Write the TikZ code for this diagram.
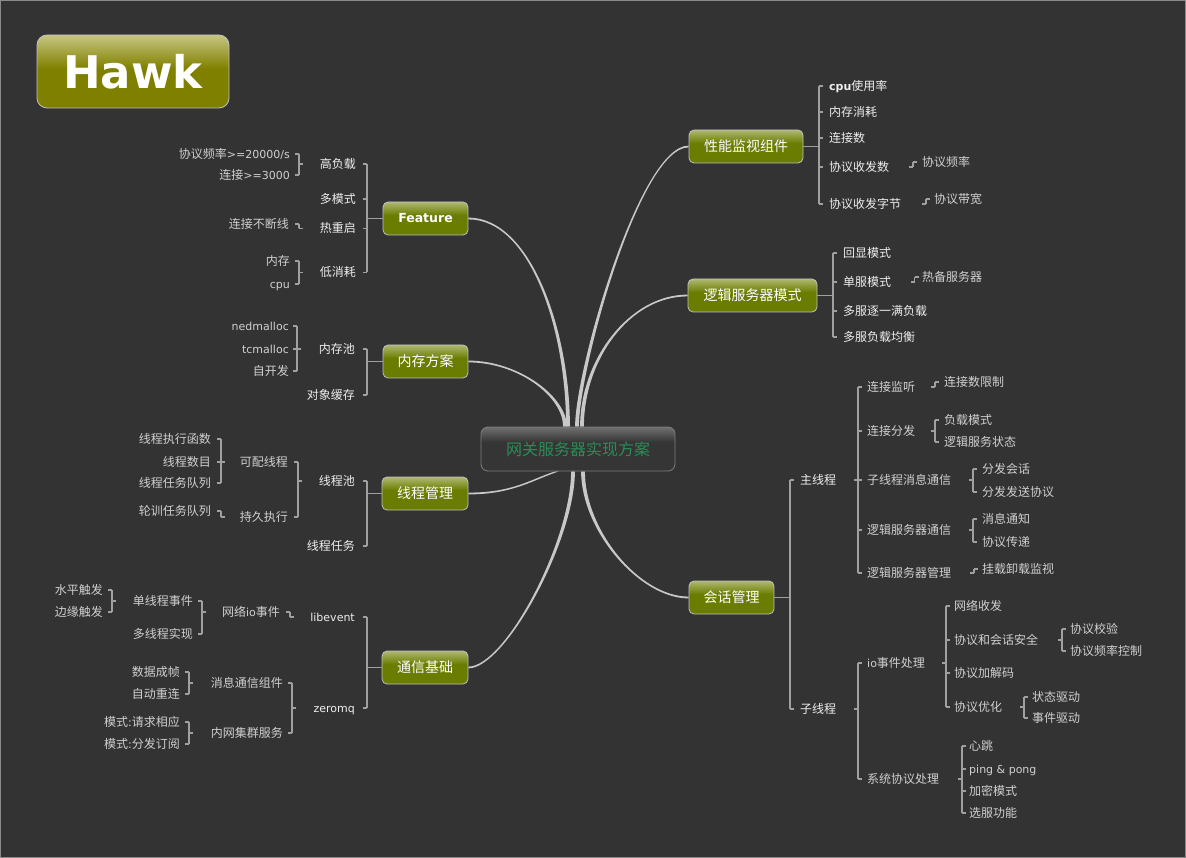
\documentclass[tikz,border=0pt]{standalone}
\usepackage{fontspec}
\setmainfont{DejaVu Sans}
\newfontfamily\cjk{Noto Sans CJK SC}
\newfontfamily\lat{DejaVu Sans}
\usetikzlibrary{calc}
\definecolor{bgc}{HTML}{333333}
\definecolor{framec}{HTML}{8A8A8A}
\definecolor{connc}{HTML}{A0A0A0}
\definecolor{brc}{HTML}{C8C8C8}
\definecolor{t1c}{HTML}{EEEEEE}
\definecolor{t2c}{HTML}{D0D0D0}
\definecolor{gdk}{HTML}{6B7D00}
\definecolor{glt}{HTML}{B0B870}
\definecolor{gborder}{HTML}{C0C0C0}
\definecolor{hdk}{HTML}{808000}
\definecolor{hlt}{HTML}{C6C682}
\definecolor{rdk}{HTML}{353535}
\definecolor{rlt}{HTML}{707070}
\definecolor{rootgreen}{HTML}{2E8B57}
\pgfdeclareverticalshading{greenbox}{100bp}{color(0bp)=(gdk); color(25bp)=(gdk); color(55bp)=(gdk); color(75bp)=(glt); color(100bp)=(glt)}
\pgfdeclareverticalshading{hawkbox}{100bp}{color(0bp)=(hdk); color(25bp)=(hdk); color(52bp)=(hdk); color(75bp)=(hlt); color(100bp)=(hlt)}
\pgfdeclareverticalshading{rootbox}{100bp}{color(0bp)=(rdk); color(25bp)=(rdk); color(58bp)=(rdk); color(75bp)=(rlt); color(100bp)=(rlt)}
\pgfdeclarelayer{bg}
\pgfsetlayers{bg,main}
\newcommand\zh{\cjk\fontsize{12}{14}\selectfont}
\newcommand\en{\lat\fontsize{11}{13}\selectfont}
\def\wb{0.9}
\def\wc{1.9}
% tapered main branch: #1 box anchor, #2 ctrl offset at box, #3 ctrl offset at centre, #4 centre point, #5 side
\newcommand\branch[5]{%
\fill[brc] ($(#1)+(0,\wb)$) .. controls ($(#1)+(0,\wb)+(#2)$) and ($(#4)+({(#5)*\wc},0)+(#3)$) .. ($(#4)+({(#5)*\wc},0)$) -- ($(#4)+({-(#5)*\wc},0)$) .. controls ($(#4)+({-(#5)*\wc},0)+(#3)$) and ($(#1)+(0,-\wb)+(#2)$) .. ($(#1)+(0,-\wb)$) -- cycle;}
% brackets: #1 x, #2 first child, #3 last child, #4 parent, #5 all children
\newcommand\brL[5]{\coordinate (bx) at (#1,0);
\draw[conn] (bx |- #2) -- (bx |- #4) -- (bx |- #3);
\foreach \ch in {#5} {\draw[conn] ($(bx |- \ch)+(-4,0)$) -- (bx |- \ch);}
\draw[conn] (bx |- #4) -- ($(bx |- #4)+(4,0)$);}
\newcommand\brR[5]{\coordinate (bx) at (#1,0);
\draw[conn] (bx |- #2) -- (bx |- #4) -- (bx |- #3);
\foreach \ch in {#5} {\draw[conn] ($(bx |- \ch)+(4,0)$) -- (bx |- \ch);}
\draw[conn] (bx |- #4) -- ($(bx |- #4)+(-4,0)$);}
\newcommand\brLbox[5]{\coordinate (bx) at (#1,0);
\draw[conn] (bx |- #2) -- (bx |- #4) -- (bx |- #3);
\foreach \ch in {#5} {\draw[conn] ($(bx |- \ch)+(-4,0)$) -- (bx |- \ch);}
\draw[conn] (bx |- #4) -- (#4.west);}
\newcommand\brRbox[5]{\coordinate (bx) at (#1,0);
\draw[conn] (bx |- #2) -- (bx |- #4) -- (bx |- #3);
\foreach \ch in {#5} {\draw[conn] ($(bx |- \ch)+(4,0)$) -- (bx |- \ch);}
\draw[conn] (bx |- #4) -- (#4.east);}
\tikzset{
 txt/.style={inner sep=0pt, text height=10.5pt, text depth=1.5pt, font=\zh},
 La/.style={txt, text=t1c},
 Lb/.style={txt, text=t2c},
 lft/.style={anchor=east},
 rgt/.style={anchor=west},
 conn/.style={draw=connc, line width=1.1pt},
 gbox/.style={draw=gborder, line width=0.8pt, rounded corners=5pt, shade, shading=greenbox, minimum height=33pt, inner sep=0pt, text=white, font=\cjk\fontsize{14}{16}\selectfont},
}
\begin{document}
\begin{tikzpicture}[x=1pt,y=-1pt]
\begin{pgfonlayer}{bg}
\fill[bgc] (0,0) rectangle (1186,858);
\draw[draw=framec, line width=1.2pt] (0.6,0.6) rectangle (1185.4,857.4);
\end{pgfonlayer}
% title
\node[draw=gborder, line width=0.8pt, rounded corners=10pt, shade, shading=hawkbox, minimum width=192pt, minimum height=73pt, inner sep=0pt, text=white, font=\lat\bfseries\fontsize{45}{50}\selectfont] (hawk) at (133,71.5) {Hawk};
% centre
\node[draw=rlt!90!white, line width=0.8pt, rounded corners=7pt, shade, shading=rootbox, minimum width=194pt, minimum height=44pt, inner sep=0pt, text=rootgreen, font=\cjk\fontsize{16}{18}\selectfont] (root) at (578,449) {网关服务器实现方案};
% main boxes
\node[gbox, minimum width=85pt, font=\lat\bfseries\fontsize{12.5}{14}\selectfont] (feat) at (425.5,218.5) {Feature};
\node[gbox, minimum width=85pt] (mem) at (425.5,361.5) {内存方案};
\node[gbox, minimum width=86pt] (thr) at (425,493.5) {线程管理};
\node[gbox, minimum width=86pt] (com) at (425,667.5) {通信基础};
\node[gbox, minimum width=114pt] (perf) at (746,146.5) {性能监视组件};
\node[gbox, minimum width=129pt] (logic) at (752.5,295.5) {逻辑服务器模式};
\node[gbox, minimum width=85pt] (sess) at (731.5,597.5) {会话管理};
% centre branches
\coordinate (cF) at ($(root.north)+(-10,0)$);
\coordinate (cM) at ($(root.north)+(-13,0)$);
\coordinate (cP) at ($(root.north)+(-1,0)$);
\coordinate (cL) at ($(root.north)+(4,0)$);
\coordinate (cT) at ($(root.south)+(-21,0)$);
\coordinate (cC) at ($(root.south)+(-5,0)$);
\coordinate (cS) at ($(root.south)+(5,0)$);
\begin{pgfonlayer}{bg}
\branch{feat.east}{62,0}{0,-97}{cF}{-1}
\branch{mem.east}{50,0}{0,-30}{cM}{-1}
\branch{perf.west}{-49,0}{0,-57}{cP}{1}
\branch{logic.west}{-58,0}{0,-67}{cL}{1}
\branch{thr.east}{45,0}{-25,8}{cT}{1}
\branch{com.east}{37,0}{0,69}{cC}{1}
\branch{sess.west}{-49,0}{0,59}{cS}{-1}
\end{pgfonlayer}
% ---------- Feature ----------
\node[La,lft] (f1) at (356,164) {高负载};
\node[La,lft] (f2) at (356,199) {多模式};
\node[La,lft] (f3) at (356,228.5) {热重启};
\node[La,lft] (f4) at (356,272.5) {低消耗};
\node[Lb,lft] (f11) at (290,154) {协议频率{\en >=20000/s}};
\node[Lb,lft] (f12) at (290,175) {连接{\en >=3000}};
\node[Lb,lft] (f31) at (289,224) {连接不断线};
\node[Lb,lft] (f41) at (290,261) {内存};
\node[Lb,lft] (f42) at (290,284) {\en cpu};
\brLbox{367}{f1}{f4}{feat}{f1,f2,f3,f4}
\brL{299}{f11}{f12}{f1}{f11,f12}
\brL{299}{f31}{f31}{f3}{f31}
\brL{299}{f41}{f42}{f4}{f41,f42}
% ---------- memory ----------
\node[La,lft] (m1) at (355,349) {内存池};
\node[La,lft] (m2) at (355,395) {对象缓存};
\node[Lb,lft] (m11) at (289,326) {\en nedmalloc};
\node[Lb,lft] (m12) at (289,349) {\en tcmalloc};
\node[Lb,lft] (m13) at (289,371) {自开发};
\brLbox{367}{m1}{m2}{mem}{m1,m2}
\brL{297}{m11}{m13}{m1}{m11,m12,m13}
% ---------- threads ----------
\node[La,lft] (t1) at (355,481) {线程池};
\node[La,lft] (t2) at (355,546) {线程任务};
\node[Lb,lft] (t11) at (288,462) {可配线程};
\node[Lb,lft] (t12) at (288,517) {持久执行};
\node[Lb,lft] (t111) at (211,439) {线程执行函数};
\node[Lb,lft] (t112) at (211,462) {线程数目};
\node[Lb,lft] (t113) at (211,483) {线程任务队列};
\node[Lb,lft] (t121) at (211,511) {轮训任务队列};
\brLbox{367}{t1}{t2}{thr}{t1,t2}
\brL{298}{t11}{t12}{t1}{t11,t12}
\brL{221}{t111}{t113}{t11}{t111,t112,t113}
\brL{221}{t121}{t121}{t12}{t121}
% ---------- communication ----------
\node[La,lft] (c1) at (355,617) {\en libevent};
\node[La,lft] (c2) at (355,708) {\en zeromq};
\node[Lb,lft] (c11) at (280,612) {网络{\en io}事件};
\node[Lb,lft] (c111) at (193,601) {单线程事件};
\node[Lb,lft] (c112) at (193,634) {多线程实现};
\node[Lb,lft] (c1111) at (103,590) {水平触发};
\node[Lb,lft] (c1112) at (103,612) {边缘触发};
\node[Lb,lft] (c21) at (283,683) {消息通信组件};
\node[Lb,lft] (c22) at (283,733) {内网集群服务};
\node[Lb,lft] (c211) at (180,672) {数据成帧};
\node[Lb,lft] (c212) at (180,694) {自动重连};
\node[Lb,lft] (c221) at (180,722) {模式{\en :}请求相应};
\node[Lb,lft] (c222) at (180,744) {模式{\en :}分发订阅};
\brLbox{367}{c1}{c2}{com}{c1,c2}
\brL{290}{c11}{c11}{c1}{c11}
\brL{202}{c111}{c112}{c11}{c111,c112}
\brL{112}{c1111}{c1112}{c111}{c1111,c1112}
\brL{292}{c21}{c22}{c2}{c21,c22}
\brL{189}{c211}{c212}{c21}{c211,c212}
\brL{189}{c221}{c222}{c22}{c221,c222}
% ---------- performance ----------
\node[La,rgt] (p1) at (829,86) {{\en\bfseries cpu}使用率};
\node[La,rgt] (p2) at (829,112) {内存消耗};
\node[La,rgt] (p3) at (829,138) {连接数};
\node[La,rgt] (p4) at (829,167) {协议收发数};
\node[La,rgt] (p5) at (829,204) {协议收发字节};
\node[Lb,rgt] (p41) at (922,162) {协议频率};
\node[Lb,rgt] (p51) at (934,199) {协议带宽};
\brRbox{819}{p1}{p5}{perf}{p1,p2,p3,p4,p5}
\brR{913}{p41}{p41}{p4}{p41}
\brR{926}{p51}{p51}{p5}{p51}
% ---------- logic server mode ----------
\node[La,rgt] (l1) at (843,253) {回显模式};
\node[La,rgt] (l2) at (843,282) {单服模式};
\node[La,rgt] (l3) at (843,311) {多服逐一满负载};
\node[La,rgt] (l4) at (843,337) {多服负载均衡};
\node[Lb,rgt] (l21) at (922,277) {热备服务器};
\brRbox{833}{l1}{l4}{logic}{l1,l2,l3,l4}
\brR{914.5}{l21}{l21}{l2}{l21}
% ---------- session ----------
\node[La,rgt] (s1) at (800,480) {主线程};
\node[La,rgt] (s2) at (800,709) {子线程};
\brRbox{790}{s1}{s2}{sess}{s1,s2}
\node[Lb,rgt] (s11) at (867,387) {连接监听};
\node[Lb,rgt] (s12) at (867,431) {连接分发};
\node[Lb,rgt] (s13) at (867,480) {子线程消息通信};
\node[Lb,rgt] (s14) at (867,530) {逻辑服务器通信};
\node[Lb,rgt] (s15) at (867,573) {逻辑服务器管理};
\brR{858}{s11}{s15}{s1}{s11,s12,s13,s14,s15}
\node[Lb,rgt] (s111) at (944,382) {连接数限制};
\brR{935}{s111}{s111}{s11}{s111}
\node[Lb,rgt] (s121) at (944,420) {负载模式};
\node[Lb,rgt] (s122) at (944,442) {逻辑服务状态};
\brR{935}{s121}{s122}{s12}{s121,s122}
\node[Lb,rgt] (s131) at (982,469) {分发会话};
\node[Lb,rgt] (s132) at (982,492) {分发发送协议};
\brR{973}{s131}{s132}{s13}{s131,s132}
\node[Lb,rgt] (s141) at (982,519) {消息通知};
\node[Lb,rgt] (s142) at (982,542) {协议传递};
\brR{973}{s141}{s142}{s14}{s141,s142}
\node[Lb,rgt] (s151) at (982,569) {挂载卸载监视};
\brR{974}{s151}{s151}{s15}{s151}
\node[Lb,rgt] (s21) at (867,663) {{\en io}事件处理};
\node[Lb,rgt] (s22) at (867,779) {系统协议处理};
\brR{858}{s21}{s22}{s2}{s21,s22}
\node[Lb,rgt] (s211) at (954,606) {网络收发};
\node[Lb,rgt] (s212) at (954,640) {协议和会话安全};
\node[Lb,rgt] (s213) at (954,673) {协议加解码};
\node[Lb,rgt] (s214) at (954,707) {协议优化};
\brR{946}{s211}{s214}{s21}{s211,s212,s213,s214}
\node[Lb,rgt] (s2121) at (1070,629) {协议校验};
\node[Lb,rgt] (s2122) at (1070,651) {协议频率控制};
\brR{1062}{s2121}{s2122}{s212}{s2121,s2122}
\node[Lb,rgt] (s2141) at (1032,697) {状态驱动};
\node[Lb,rgt] (s2142) at (1032,718) {事件驱动};
\brR{1024}{s2141}{s2142}{s214}{s2141,s2142}
\node[Lb,rgt] (s221) at (969,746) {心跳};
\node[Lb,rgt] (s222) at (969,769) {\en ping \& pong};
\node[Lb,rgt] (s223) at (969,791) {加密模式};
\node[Lb,rgt] (s224) at (969,813) {选服功能};
\brR{962}{s221}{s224}{s22}{s221,s222,s223,s224}
\end{tikzpicture}
\end{document}
